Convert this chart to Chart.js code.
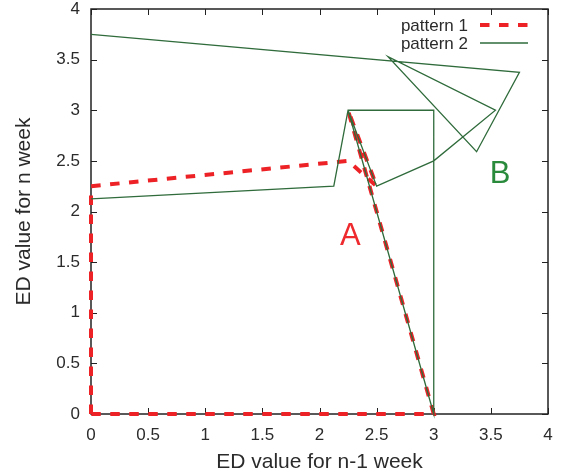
<!DOCTYPE html>
<html>
<head>
<meta charset="utf-8">
<script src="https://cdn.jsdelivr.net/npm/chart.js@4.4.1/dist/chart.umd.min.js"></script>
<style>
  html, body { margin: 0; padding: 0; background: #fff; }
  #wrap { width: 561px; height: 475px; }
</style>
</head>
<body>
<div id="wrap"><canvas id="chart" width="561" height="475"></canvas></div>
<script>
// Data: (ED n-1 week, ED n week)
const pattern1X = [0, 0, 2.25, 2.5, 2.25, 3, 0];
const pattern1Y = [0, 2.25, 2.5, 2.25, 3, 0, 0];

const pattern2X = [0, 3.75, 3.375, 2.6, 3.54, 3, 2.5, 2.25, 3, 3, 2.25, 2.125, 0];
const pattern2Y = [3.75, 3.375, 2.59, 3.53, 3, 2.5, 2.25, 3, 0, 3, 3, 2.25, 2.125];

const tickValues = [0, 0.5, 1, 1.5, 2, 2.5, 3, 3.5, 4];
const seriesNames = ["pattern 1", "pattern 2"];

// Region labels
const regionLabels = [
  { text: "A", x: 2.27, y: 1.75, color: "#ee2a2e" },
  { text: "B", x: 3.58, y: 2.37, color: "#2a8a3c" },
];

const RED = "#ec2227";
const GREEN = "#2f6b3b";
const TEXT = "#2b2b2b";
const FONT = "'Liberation Sans', Arial, sans-serif";

function toPoints(xs, ys) {
  return xs.map((x, i) => ({ x: x, y: ys[i] }));
}

// Box and inward ticks on all sides, under the lines
const framePlugin = {
  id: "frame",
  beforeDatasetsDraw(chart) {
    const ctx = chart.ctx;
    const area = chart.chartArea;
    const xs = chart.scales.x;
    const ys = chart.scales.y;
    const len = 6;

    ctx.save();
    ctx.strokeStyle = "#222";
    ctx.lineWidth = 1;
    tickValues.forEach((v) => {
      const px = Math.round(xs.getPixelForValue(v)) + 0.5;
      const py = Math.round(ys.getPixelForValue(v)) + 0.5;
      ctx.beginPath();
      ctx.moveTo(px, area.bottom);
      ctx.lineTo(px, area.bottom - len);
      ctx.moveTo(px, area.top);
      ctx.lineTo(px, area.top + len);
      ctx.moveTo(area.left, py);
      ctx.lineTo(area.left + len, py);
      ctx.moveTo(area.right, py);
      ctx.lineTo(area.right - len, py);
      ctx.stroke();
    });
    ctx.lineWidth = 1.5;
    ctx.strokeRect(area.left, area.top, area.right - area.left, area.bottom - area.top);
    ctx.restore();
  },
  // labels A/B and the legend
  afterDatasetsDraw(chart) {
    const ctx = chart.ctx;
    const area = chart.chartArea;
    const xs = chart.scales.x;
    const ys = chart.scales.y;

    ctx.save();
    ctx.font = "31px " + FONT;
    ctx.textAlign = "center";
    ctx.textBaseline = "middle";
    regionLabels.forEach((l) => {
      ctx.fillStyle = l.color;
      ctx.fillText(l.text, xs.getPixelForValue(l.x), ys.getPixelForValue(l.y));
    });

    ctx.font = "17px " + FONT;
    ctx.textAlign = "right";
    const rows = [
      { name: seriesNames[0], color: RED, width: 4, dash: [9.5, 9.5] },
      { name: seriesNames[1], color: GREEN, width: 1.3, dash: [] },
    ];
    rows.forEach((r, i) => {
      const y = area.top + 16 + i * 18;
      ctx.fillStyle = TEXT;
      ctx.fillText(r.name, area.right - 80, y + 1);
      ctx.beginPath();
      ctx.setLineDash(r.dash);
      ctx.strokeStyle = r.color;
      ctx.lineWidth = r.width;
      ctx.moveTo(area.right - 68, y);
      ctx.lineTo(area.right - 20, y);
      ctx.stroke();
    });
    ctx.restore();
  },
};

const axisTicks = (value) => (tickValues.includes(value) ? String(value) : "");

new Chart(document.getElementById("chart"), {
  type: "scatter",
  data: {
    datasets: [
      {
        label: seriesNames[1],
        data: toPoints(pattern2X, pattern2Y),
        showLine: true,
        borderColor: GREEN,
        borderWidth: 1.3,
        pointRadius: 0,
        fill: false,
        tension: 0,
        clip: false,
      },
      {
        label: seriesNames[0],
        data: toPoints(pattern1X, pattern1Y),
        showLine: true,
        borderColor: RED,
        borderWidth: 4,
        borderDash: [9.5, 9.5],
        pointRadius: 0,
        fill: false,
        tension: 0,
        clip: false,
      },
    ],
  },
  options: {
    responsive: false,
    animation: false,
    layout: { padding: { left: 12, top: 9, right: 13, bottom: 0 } },
    plugins: {
      legend: { display: false },
      tooltip: { enabled: false },
    },
    scales: {
      x: {
        type: "linear",
        min: 0,
        max: 4,
        grid: { display: false, drawTicks: false },
        border: { display: false },
        ticks: {
          stepSize: 0.5,
          padding: 11,
          color: TEXT,
          font: { family: FONT, size: 17 },
          maxRotation: 0,
          callback: axisTicks,
        },
        title: {
          display: true,
          text: "ED value for n-1 week",
          color: TEXT,
          font: { family: FONT, size: 21 },
          padding: { top: 0, bottom: 0 },
        },
        afterFit: (scale) => {
          scale.height = 61;
          scale.paddingLeft = 0;
          scale.paddingRight = 0;
        },
      },
      y: {
        type: "linear",
        min: 0,
        max: 4,
        grid: { display: false, drawTicks: false },
        border: { display: false },
        ticks: {
          stepSize: 0.5,
          padding: 11,
          color: TEXT,
          font: { family: FONT, size: 17 },
          callback: axisTicks,
        },
        title: {
          display: true,
          text: "ED value for n week",
          color: TEXT,
          font: { family: FONT, size: 21 },
          padding: { top: 0, bottom: 4 },
        },
        afterFit: (scale) => {
          scale.width = 79;
          scale.paddingTop = 0;
          scale.paddingBottom = 0;
        },
      },
    },
  },
  plugins: [framePlugin],
});
</script>
</body>
</html>
